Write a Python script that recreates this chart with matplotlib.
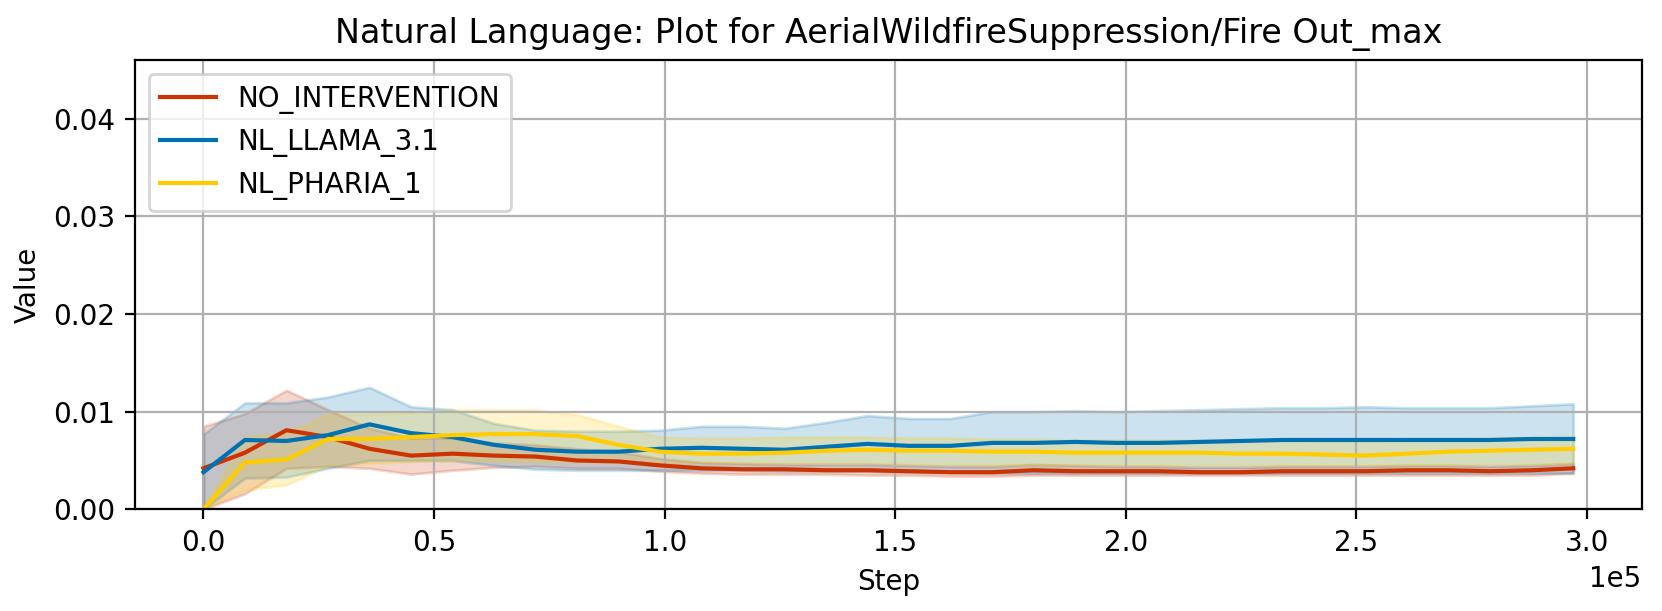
import numpy as np
import matplotlib
matplotlib.use("Agg")
import matplotlib.pyplot as plt

steps = np.arange(34) * 9000

no_int = [0.0042, 0.0058, 0.0081, 0.0074, 0.0062, 0.0055, 0.0057, 0.0055, 0.0054, 0.0050,
          0.0049, 0.0045, 0.0042, 0.0041, 0.0041, 0.0040, 0.0040, 0.0039, 0.0038, 0.0038,
          0.0040, 0.0039, 0.0039, 0.0039, 0.0038, 0.0038, 0.0039, 0.0039, 0.0039, 0.0040,
          0.0040, 0.0039, 0.0040, 0.0042]
no_int_lo = [0.0000, 0.0016, 0.0042, 0.0044, 0.0042, 0.0036, 0.0040, 0.0043, 0.0044, 0.0042,
             0.0042, 0.0039, 0.0037, 0.0036, 0.0036, 0.0036, 0.0035, 0.0035, 0.0034, 0.0034,
             0.0035, 0.0035, 0.0035, 0.0035, 0.0035, 0.0035, 0.0035, 0.0035, 0.0035, 0.0035,
             0.0035, 0.0035, 0.0035, 0.0037]
no_int_hi = [0.0085, 0.0098, 0.0122, 0.0102, 0.0083, 0.0073, 0.0073, 0.0068, 0.0066, 0.0062,
             0.0059, 0.0052, 0.0048, 0.0047, 0.0046, 0.0046, 0.0046, 0.0045, 0.0044, 0.0044,
             0.0046, 0.0045, 0.0044, 0.0044, 0.0043, 0.0043, 0.0044, 0.0044, 0.0044, 0.0045,
             0.0045, 0.0044, 0.0045, 0.0047]

llama = [0.0038, 0.0071, 0.0070, 0.0076, 0.0087, 0.0078, 0.0074, 0.0066, 0.0061, 0.0059,
         0.0059, 0.0062, 0.0063, 0.0062, 0.0061, 0.0064, 0.0067, 0.0065, 0.0065, 0.0068,
         0.0068, 0.0069, 0.0068, 0.0068, 0.0069, 0.0070, 0.0071, 0.0071, 0.0071, 0.0071,
         0.0071, 0.0071, 0.0072, 0.0072]
llama_lo = [0.0000, 0.0032, 0.0033, 0.0042, 0.0050, 0.0050, 0.0050, 0.0045, 0.0041, 0.0040,
            0.0040, 0.0040, 0.0040, 0.0040, 0.0039, 0.0039, 0.0039, 0.0038, 0.0038, 0.0037,
            0.0037, 0.0037, 0.0037, 0.0037, 0.0037, 0.0037, 0.0037, 0.0037, 0.0037, 0.0037,
            0.0037, 0.0037, 0.0037, 0.0037]
llama_hi = [0.0077, 0.0109, 0.0109, 0.0115, 0.0125, 0.0105, 0.0102, 0.0088, 0.0081, 0.0080,
            0.0080, 0.0081, 0.0085, 0.0085, 0.0083, 0.0089, 0.0096, 0.0093, 0.0093, 0.0100,
            0.0100, 0.0101, 0.0100, 0.0101, 0.0102, 0.0103, 0.0104, 0.0104, 0.0105, 0.0104,
            0.0104, 0.0104, 0.0106, 0.0108]

pharia = [0.0000, 0.0048, 0.0051, 0.0072, 0.0072, 0.0074, 0.0076, 0.0077, 0.0077, 0.0075,
          0.0066, 0.0059, 0.0057, 0.0057, 0.0058, 0.0060, 0.0061, 0.0060, 0.0060, 0.0059,
          0.0059, 0.0058, 0.0058, 0.0058, 0.0058, 0.0057, 0.0057, 0.0056, 0.0055, 0.0057,
          0.0059, 0.0060, 0.0061, 0.0062]
pharia_lo = [0.0000, 0.0020, 0.0025, 0.0045, 0.0047, 0.0049, 0.0050, 0.0050, 0.0049, 0.0049,
             0.0049, 0.0048, 0.0048, 0.0047, 0.0047, 0.0047, 0.0047, 0.0046, 0.0046, 0.0045,
             0.0045, 0.0045, 0.0045, 0.0045, 0.0045, 0.0045, 0.0045, 0.0045, 0.0045, 0.0045,
             0.0045, 0.0046, 0.0046, 0.0047]
pharia_hi = [0.0000, 0.0074, 0.0078, 0.0097, 0.0097, 0.0099, 0.0102, 0.0102, 0.0102, 0.0097,
             0.0085, 0.0074, 0.0073, 0.0073, 0.0074, 0.0074, 0.0074, 0.0073, 0.0073, 0.0072,
             0.0072, 0.0071, 0.0071, 0.0071, 0.0071, 0.0071, 0.0071, 0.0070, 0.0070, 0.0071,
             0.0072, 0.0073, 0.0074, 0.0075]

series = [
    ("NO_INTERVENTION", no_int, no_int_lo, no_int_hi, "#cc3300"),
    ("NL_LLAMA_3.1", llama, llama_lo, llama_hi, "#0072b2"),
    ("NL_PHARIA_1", pharia, pharia_lo, pharia_hi, "#ffcc00"),
]

fig, ax = plt.subplots(figsize=(8.31, 3.055), dpi=200)
fig.subplots_adjust(left=0.0812, right=0.9878, top=0.9018, bottom=0.1664)

for name, mean, lo, hi, col in series:
    ax.plot(steps, mean, color=col, label=name, lw=1.5)
    ax.fill_between(steps, lo, hi, color=col, alpha=0.2)

ax.set_ylim(0, 0.046)
ax.ticklabel_format(axis="x", style="sci", scilimits=(0, 0))
ax.set_title("Natural Language: Plot for AerialWildfireSuppression/Fire Out_max")
ax.set_xlabel("Step")
ax.set_ylabel("Value")
ax.grid(True)
ax.legend(loc="upper left")

fig.savefig("out.png", dpi=200)
